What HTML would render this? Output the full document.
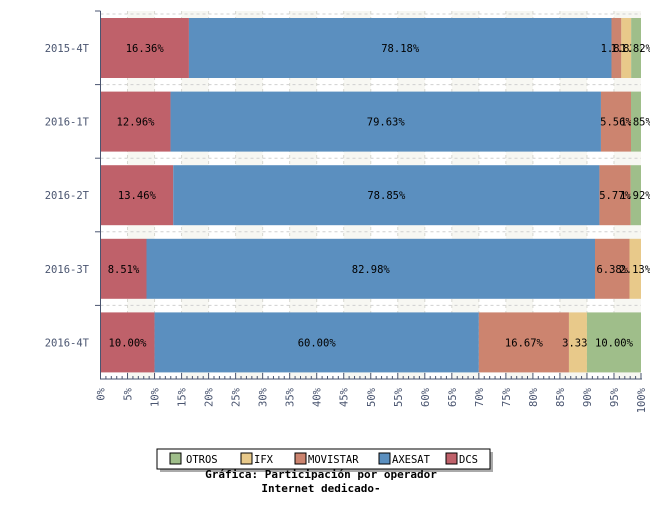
<!DOCTYPE html>
<html><head><meta charset="utf-8"><style>
body{margin:0;background:#fff;}
svg text{font-family:"DejaVu Sans Mono","Liberation Mono",monospace;}
</style></head><body>
<svg id="chart" width="650" height="500" xmlns="http://www.w3.org/2000/svg"></svg>
<script>
const categories = ["2015-4T","2016-1T","2016-2T","2016-3T","2016-4T"];
const seriesNames = ["DCS","AXESAT","MOVISTAR","IFX","OTROS"];
const dcs = [16.36,12.96,13.46,8.51,10.00];
const axesat = [78.18,79.63,78.85,82.98,60.00];
const movistar = [1.82,5.56,5.77,6.38,16.67];
const ifx = [1.82,0,0,2.13,3.33];
const otros = [1.82,1.85,1.92,0,10.00];
const xTicks = [0,5,10,15,20,25,30,35,40,45,50,55,60,65,70,75,80,85,90,95,100];
const colors = ["#bf616a","#5b8fbf","#cc846f","#e8c98a","#9fbe8a"];

const NS="http://www.w3.org/2000/svg";
const svg=document.getElementById('chart');
const L=100.5,R=641,T=11,B=379,band=(B-T)/categories.length,barH=60,barOff=7;
const x=v=>L+(R-L)*v/100;
const yb=i=>T+i*band;
function mk(tag,attrs,parent){const e=document.createElementNS(NS,tag);for(const k in attrs)e.setAttribute(k,attrs[k]);(parent||svg).appendChild(e);return e;}

// background stripes
const bg=mk('g',{});


for(let t=5;t<100;t+=10){mk('rect',{x:x(t),y:T,width:x(t+5)-x(t),height:B-T,fill:'#f7f7f2'},bg);}
for(let t=5;t<100;t+=5){mk('line',{x1:x(t),x2:x(t),y1:T,y2:B,stroke:'#d8d8d0','stroke-dasharray':'3,3'},bg);}
for(let i=0;i<=categories.length;i++){const yy=yb(i)+ (i==0?3:0);mk('line',{x1:L,x2:R,y1:yy,y2:yy,stroke:'#d0d0d0','stroke-dasharray':'3,3'},bg);}

const series=[dcs,axesat,movistar,ifx,otros];
categories.forEach((c,i)=>{
  const g=mk('g',{});
  
  
  let acc=0;
  series.forEach((s,k)=>{
    const v=s[i];if(!v){return;}
    const r=mk('rect',{x:x(acc),y:yb(i)+barOff,width:x(acc+v)-x(acc),height:barH,fill:colors[k]},g);
    
    
    const t=mk('text',{x:(x(acc)+x(acc+v))/2,y:yb(i)+barOff+barH/2+4,'text-anchor':'middle','font-size':'10.5',fill:'#000'},g);
    t.textContent=v.toFixed(2)+'%';
    
    
    acc+=v;
  });
  const lb=mk('text',{x:89,y:yb(i)+barOff+barH/2+4,'text-anchor':'end','font-size':'10.5',fill:'#4a5570'});
  lb.textContent=c;
  
  
  mk('line',{x1:95,x2:L,y1:yb(i)+(i==0?0:0),y2:yb(i),stroke:'#4a5570'});
});
// axes
const ax=mk('g',{stroke:'#4a5570'});


mk('line',{x1:L,x2:L,y1:T,y2:B},ax);
mk('line',{x1:L-0.5,x2:R+1,y1:B,y2:B},ax);
for(let t=0;t<=100;t++){const len=(t%5==0)?6:3;mk('line',{x1:x(t),x2:x(t),y1:B-len,y2:B},ax);}
xTicks.forEach(t=>{
  const tx=mk('text',{x:0,y:0,transform:`translate(${x(t)+4},${388}) rotate(-90)`,'text-anchor':'end','font-size':'10.5',fill:'#4a5570'});
  tx.textContent=t+'%';
  
  
});
// legend
const lg=mk('g',{});


mk('rect',{x:160,y:452,width:333,height:20,fill:'#aaa'},lg);
mk('rect',{x:157,y:449,width:333,height:20,fill:'#fff',stroke:'#000'},lg);
const legendItems=[["OTROS",4,170,186],["IFX",3,241,254],["MOVISTAR",2,295,308],["AXESAT",1,379,392],["DCS",0,446,459]];
legendItems.forEach(([n,k,sx,tx])=>{
  const e=mk('g',{},lg);
  
  
  mk('rect',{x:sx,y:453,width:11,height:11,fill:colors[k],stroke:'#000'},e);
  const t=mk('text',{x:tx,y:463,'font-size':'10.5',fill:'#000'},e);t.textContent=n;
});
const t1=mk('text',{x:321,y:478,'text-anchor':'middle','font-size':'11','font-weight':'bold',fill:'#000'});
t1.textContent='Gráfica: Participación por operador';


const t2=mk('text',{x:321,y:492,'text-anchor':'middle','font-size':'11','font-weight':'bold',fill:'#000'});
t2.textContent='Internet dedicado-';


</script>
</body></html>
